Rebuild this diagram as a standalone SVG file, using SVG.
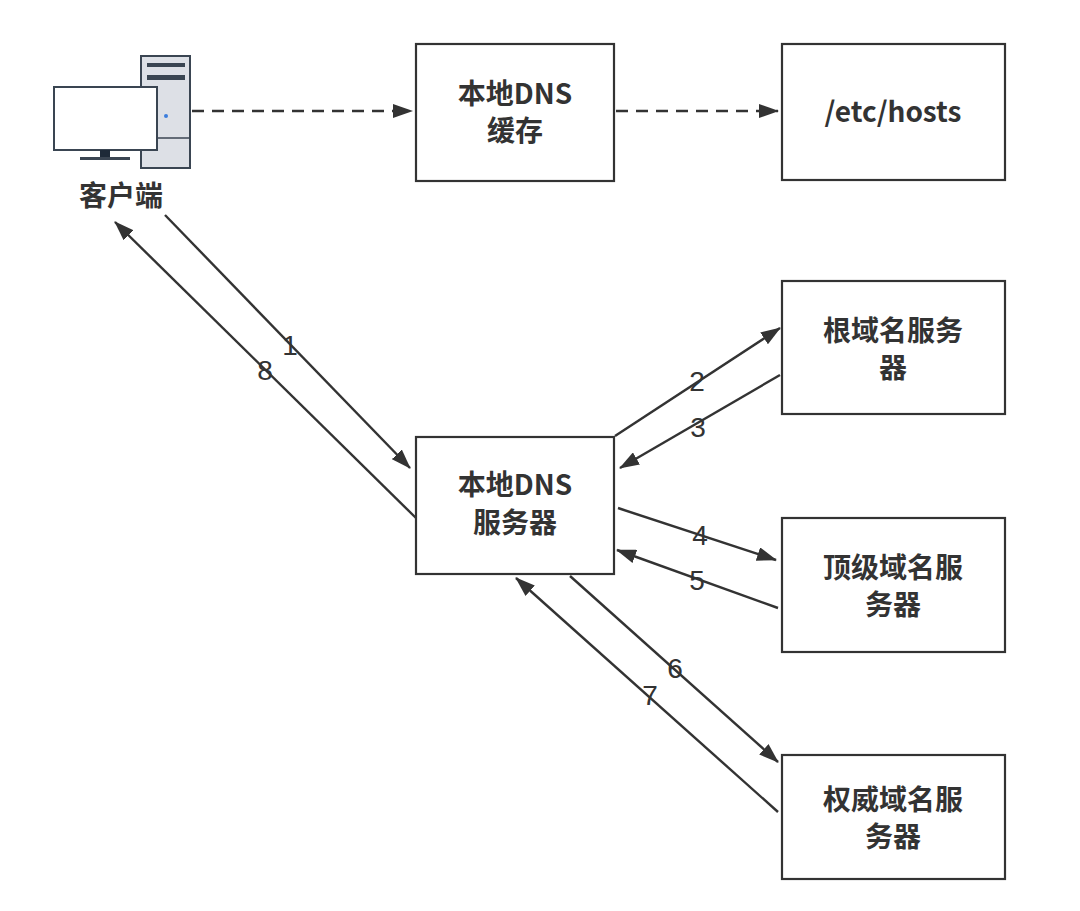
<svg xmlns="http://www.w3.org/2000/svg" width="1080" height="911" viewBox="0 0 1080 911">
<style>
.box{fill:#fff;stroke:#333;stroke-width:2.2}
.t{font-family:"Noto Sans CJK SC","Liberation Sans",sans-serif;font-weight:bold;font-size:28px;fill:#333;text-anchor:middle}
.n{font-family:"Liberation Sans",sans-serif;font-size:28px;fill:#333;text-anchor:middle}
.c{stroke:#333;stroke-width:2.4;fill:none;marker-end:url(#a)}
</style>
<defs><marker id="a" viewBox="0 0 20 14" refX="19" refY="7" markerWidth="20" markerHeight="14" markerUnits="userSpaceOnUse" orient="auto"><path d="M0,0 L20,7 L0,14 z" fill="#333"/></marker></defs>
<rect width="1080" height="911" fill="#fff"/>
<g id="client">
<rect x="141" y="56" width="49" height="112" fill="#dde0e6" stroke="#3a4552" stroke-width="2"/>
<rect x="147" y="63" width="38" height="4" fill="#3a4552"/>
<rect x="147" y="75" width="38" height="5" fill="#3a4552"/>
<line x1="141" y1="138" x2="190" y2="138" stroke="#3a4552" stroke-width="1.5"/>
<circle cx="166" cy="116" r="2" fill="#3b7ddd"/>
<rect x="54" y="87" width="103" height="63" fill="#fff" stroke="#3a4552" stroke-width="2"/>
<rect x="100" y="150" width="10" height="7" fill="#1e2a38"/>
<rect x="80" y="157" width="50" height="3" fill="#3a4552"/>
<text class="t" x="121" y="206">客户端</text>
</g>
<g id="cache"><rect class="box" x="416" y="44" width="198" height="137"/><text class="t" x="515" y="104">本地DNS</text><text class="t" x="515" y="141">缓存</text></g>
<g id="hosts"><rect class="box" x="782" y="44" width="223" height="136"/><text class="t" x="893" y="122">/etc/hosts</text></g>
<g id="root"><rect class="box" x="782" y="281" width="223" height="133"/><text class="t" x="893" y="341">根域名服务</text><text class="t" x="893" y="378">器</text></g>
<g id="local"><rect class="box" x="416" y="437" width="198" height="137"/><text class="t" x="515" y="495">本地DNS</text><text class="t" x="515" y="533">服务器</text></g>
<g id="tld"><rect class="box" x="782" y="518" width="223" height="134"/><text class="t" x="893" y="578">顶级域名服</text><text class="t" x="893" y="615">务器</text></g>
<g id="auth"><rect class="box" x="782" y="755" width="223" height="124"/><text class="t" x="893" y="810">权威域名服</text><text class="t" x="893" y="847">务器</text></g>
<g id="connectors">
<line class="c" x1="192" y1="111" x2="412" y2="111" stroke-dasharray="12,8"/>
<line class="c" x1="616" y1="111" x2="778" y2="111" stroke-dasharray="12,8"/>
<line class="c" x1="165" y1="215" x2="410" y2="468"/>
<line class="c" x1="416" y1="518" x2="115" y2="222"/>
<line class="c" x1="615" y1="436" x2="780" y2="328"/>
<line class="c" x1="780" y1="375" x2="620" y2="468"/>
<line class="c" x1="618" y1="508" x2="776" y2="560"/>
<line class="c" x1="778" y1="608" x2="617" y2="550"/>
<line class="c" x1="570" y1="576" x2="778" y2="762"/>
<line class="c" x1="778" y1="812" x2="516" y2="578"/>
</g>
<g id="labels">
<text class="n" x="290" y="355">1</text><text class="n" x="265" y="380">8</text>
<text class="n" x="697" y="391">2</text><text class="n" x="698" y="437">3</text>
<text class="n" x="700" y="545">4</text><text class="n" x="697" y="590">5</text>
<text class="n" x="675" y="678">6</text><text class="n" x="650" y="705">7</text>
</g>
</svg>
